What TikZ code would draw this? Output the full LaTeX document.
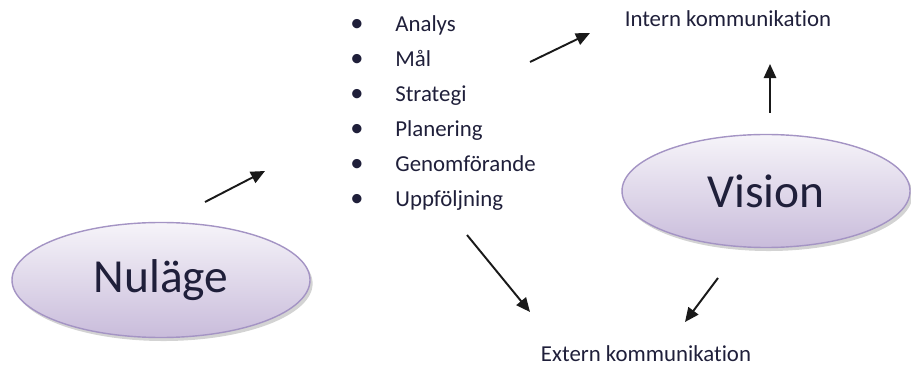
\documentclass[tikz,border=0pt]{standalone}
\usepackage{fontspec}
\setmainfont{Carlito}[Ligatures = NoCommon]
\usetikzlibrary{shapes.geometric}
\usetikzlibrary{positioning}
\usetikzlibrary{arrows.meta}
\usetikzlibrary{shadows}
\definecolor{lilatop}{HTML}{F6F4F9}
\definecolor{lilabot}{HTML}{C9BCDB}
\definecolor{lilaline}{HTML}{A494C4}
\definecolor{textblue}{HTML}{1F1F3A}

\begin{document}
\begin{tikzpicture}[x = 0.02cm, y = -0.02cm,
    bubble/.style = {ellipse, draw = lilaline, line width = 0.8pt, top color = lilatop, bottom color = lilabot,
        drop shadow = {shadow xshift = 1.5pt, shadow yshift = -2pt, opacity = 0.35},
        inner sep = 0pt, font = \fontsize{27}{30}\selectfont, text = textblue},
    word/.style = {font = \fontsize{13}{15}\selectfont, text = textblue, inner sep = 0pt},
    pil/.style = {-{Triangle[length = 8pt, width = 7pt]}, line width = 1.1pt, black!90}]
    \useasboundingbox (0,0) rectangle (911,374);

    % ellipses
    \node (nulage) at (161,280) [bubble, minimum width = 298*0.02cm, minimum height = 115*0.02cm] {Nuläge};
    \node (vision) at (766,191) [bubble, minimum width = 288*0.02cm, minimum height = 113*0.02cm] {Vision};

    % list of steps
    \foreach \txt [count = \i] in {Analys, Mål, Strategi, Planering, Genomförande, Uppföljning} {
        \node (dot\i) at (357, -3 + 35*\i) [word, anchor = base, font = \fontsize{15}{15}\selectfont] {\textbullet};
        \node (step\i) [word, anchor = base west] at (395, -3 + 35*\i) {\txt};
    }

    \node (intern) at (728,27) [word, anchor = base] {Intern kommunikation};
    \node (extern) at (646,361) [word, anchor = base] {Extern kommunikation};

    % free arrows
    \coordinate (a1s) at (205,202);  \coordinate (a1e) at (265,171);
    \coordinate (a2s) at (530,62);   \coordinate (a2e) at (590,33);
    \coordinate (a3s) at (770,113);  \coordinate (a3e) at (770,64);
    \coordinate (a4s) at (467,235);  \coordinate (a4e) at (530,312);
    \coordinate (a5s) at (718,278);  \coordinate (a5e) at (685,322);

    \draw[pil] (a1s) -- (a1e);
    \draw[pil] (a2s) -- (a2e);
    \draw[pil] (a3s) -- (a3e);
    \draw[pil] (a4s) -- (a4e);
    \draw[pil] (a5s) -- (a5e);

\end{tikzpicture}
\end{document}
